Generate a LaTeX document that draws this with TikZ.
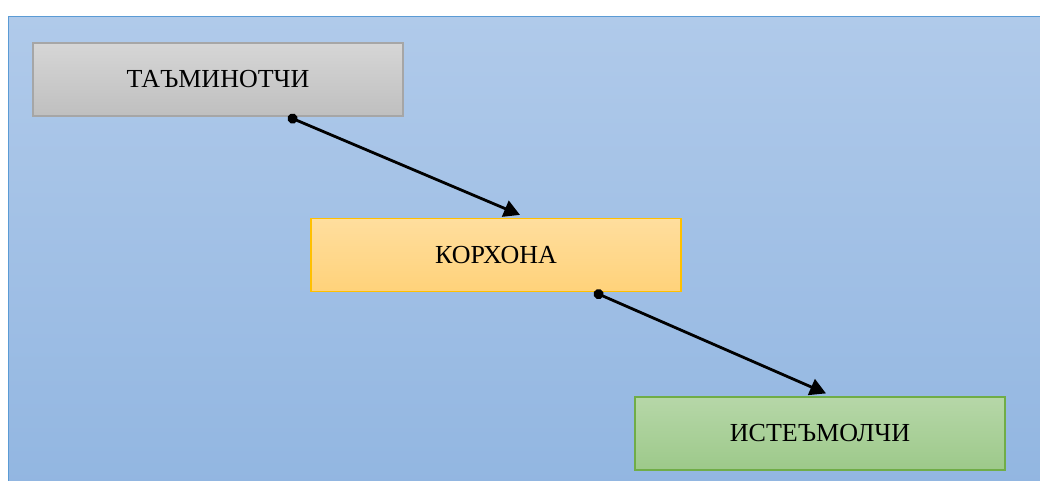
\documentclass[tikz,border=0pt]{standalone}
\usepackage{fontspec}
\setmainfont{Liberation Serif}
\usetikzlibrary{arrows.meta}

\definecolor{bgtop}{RGB}{176,202,234}
\definecolor{bgbot}{RGB}{146,182,225}
\definecolor{bgline}{RGB}{91,155,213}
\definecolor{graytop}{RGB}{214,214,214}
\definecolor{graybot}{RGB}{191,191,191}
\definecolor{grayline}{RGB}{166,166,166}
\definecolor{orangetop}{RGB}{255,222,158}
\definecolor{orangebot}{RGB}{255,210,122}
\definecolor{orangeline}{RGB}{255,192,0}
\definecolor{greentop}{RGB}{182,215,168}
\definecolor{greenbot}{RGB}{157,201,138}
\definecolor{greenline}{RGB}{112,173,71}

\begin{document}
\begin{tikzpicture}[x=1pt, y=-1pt, very thick,
	main/.style = {draw, minimum width=370pt, minimum height=73pt, inner sep=0pt,
		font=\fontsize{26}{30}\selectfont},
	link/.style = {line width=2.8pt, {Circle[length=10pt]}-{Triangle[length=16pt,width=17pt]}}]
\useasboundingbox (0,0) rectangle (1040,480);
\shade[top color=bgtop, bottom color=bgbot, draw=bgline, thin] (8.5,16.5) rectangle (1046,486);
\node[main, top color=graytop, bottom color=graybot, draw=grayline] (1) at (218,79.5) {ТАЪМИНОТЧИ};
\node[main, top color=orangetop, bottom color=orangebot, draw=orangeline] (2) at (496,255) {КОРХОНА};
\node[main, top color=greentop, bottom color=greenbot, draw=greenline] (3) at (820,433.5) {ИСТЕЪМОЛЧИ};
\draw[link] ([xshift=70pt]1.south) -- ([xshift=24pt,yshift=3pt]2.north);
\draw[link] ([xshift=98pt]2.south) -- ([xshift=6pt,yshift=3pt]3.north);
\end{tikzpicture}
\end{document}
